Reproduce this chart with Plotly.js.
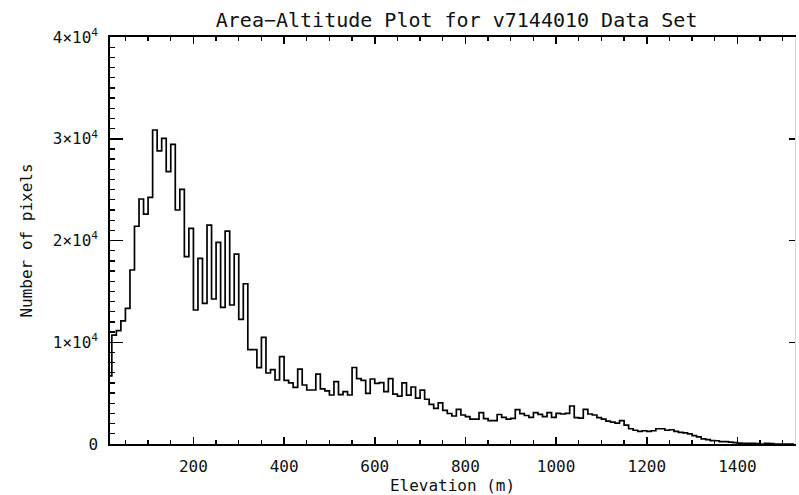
<!DOCTYPE html>
<html>
<head>
<meta charset="utf-8">
<script src="https://cdn.plot.ly/plotly-3.0.1.min.js"></script>
<style>html,body{margin:0;padding:0;background:#fff;}#chart{width:799px;height:495px;}</style>
</head>
<body>
<div id="chart"></div>
<script>
// Histogram: bin centres start at 15 m, 10 m wide
const binFirstCentre = 15;
const binWidth = 10;
const pixelCounts = [
  6700,10700,11150,12100,13330,17100,21400,24080,22600,                 // 15-95
  24240,30860,28800,30040,26760,29450,23000,25030,18410,21200,          // 105-195
  13170,18250,13830,21520,14250,19820,13430,20930,13660,18670,          // 205-295
  12250,15750,9270,9270,7500,10480,6980,7300,6290,8580,                 // 305-395
  6250,6000,5570,7350,5800,5307,5307,6870,5420,5220,                    // 405-495
  4816,6126,4860,5144,4816,7520,6420,6250,4980,6388,                    // 505-595
  5962,6028,5144,6420,4900,4700,6000,4800,5600,4500,                    // 605-695
  5300,4400,3900,3500,4050,3300,3000,2750,3400,2850,                    // 705-795
  2700,2450,2450,3080,2500,2300,2300,2900,2620,2450,                    // 805-895
  2520,3380,2980,2800,2620,3080,2916,2686,3080,2621,                    // 905-995
  3014,2950,3014,3735,2600,2550,3407,2950,2850,2600,                    // 1005-1095
  2450,2250,2150,2050,2293,1850,1500,1350,1250,1300,                    // 1105-1195
  1250,1300,1500,1500,1350,1400,1250,1150,1100,1000,                    // 1205-1295
  820,700,500,430,330,320,230,230,180,130,                              // 1305-1395
  80,70,60,60,50,0,60,50,0,0,                                           // 1405-1495
  0,0,0                                                                 // 1505-1525
];
const xTickVals = [200,400,600,800,1000,1200,1400];
const xTickText = ['200','400','600','800','1000','1200','1400'];
const yTickVals = [0,10000,20000,30000,40000];
const yTickText = ['0','1×10<sup>4</sup>','2×10<sup>4</sup>','3×10<sup>4</sup>','4×10<sup>4</sup>'];
const xRange = [16, 1527];
const yRange = [0, 40000];

const fontFam = '"DejaVu Sans Mono", "Liberation Mono", monospace';
const ink = '#111';

const traces = [
  {
    type: 'scatter', mode: 'lines',
    x0: binFirstCentre, dx: binWidth, y: pixelCounts,
    line: {shape: 'hvh', color: '#000', width: 1.7},
    hoverinfo: 'x+y', showlegend: false
  },
  {
    type: 'scatter', mode: 'lines',
    x0: binFirstCentre, dx: binWidth, y: pixelCounts,
    yaxis: 'y2', opacity: 0, hoverinfo: 'skip', showlegend: false,
    line: {width: 0}
  }
];

const layout = {
  width: 799, height: 495,
  paper_bgcolor: '#fff', plot_bgcolor: '#fff',
  margin: {l: 110, r: 4, t: 37, b: 51},
  font: {family: fontFam, color: ink, size: 16},
  title: {
    text: 'Area−Altitude Plot for v7144010 Data Set',
    font: {family: fontFam, size: 20, color: ink},
    x: 0.506, xref: 'paper', xanchor: 'center',
    y: 0.96, yref: 'container', yanchor: 'middle'
  },
  xaxis: {
    range: xRange, autorange: false,
    tickmode: 'array', tickvals: xTickVals, ticktext: xTickText,
    ticks: 'inside', ticklen: 7, tickwidth: 1.5, tickcolor: '#000',
    minor: {dtick: 50, tick0: 0, ticks: 'inside', ticklen: 4, tickwidth: 1.3, tickcolor: '#000', showgrid: false},
    showline: true, linecolor: '#000', linewidth: 1.7, mirror: 'ticks',
    showgrid: false, zeroline: false,
    ticklabelstandoff: 7,
    tickfont: {family: fontFam, size: 16, color: ink},
    title: {text: 'Elevation (m)', font: {family: fontFam, size: 16, color: ink}, standoff: 4}
  },
  yaxis: {
    range: yRange, autorange: false,
    tickmode: 'array', tickvals: yTickVals, ticktext: yTickText,
    ticks: 'inside', ticklen: 13, tickwidth: 1.5, tickcolor: '#000',
    minor: {dtick: 1000, tick0: 0, ticks: 'inside', ticklen: 5, tickwidth: 1.3, tickcolor: '#000', showgrid: false},
    showline: true, linecolor: '#000', linewidth: 1.7, mirror: false,
    showgrid: false, zeroline: false,
    ticklabelstandoff: 7,
    tickfont: {family: fontFam, size: 16, color: ink},
    title: {text: 'Number of pixels', font: {family: fontFam, size: 16, color: ink}, standoff: 16}
  },
  yaxis2: {
    overlaying: 'y', side: 'right', range: yRange, autorange: false,
    tickmode: 'array', tickvals: yTickVals,
    ticks: 'inside', ticklen: 6, tickwidth: 1.5, tickcolor: '#000',
    showticklabels: false, showline: true, linecolor: '#d8d8d8', linewidth: 1,
    showgrid: false, zeroline: false
  }
};

Plotly.newPlot('chart', traces, layout, {displayModeBar: false, staticPlot: true});
</script>
</body>
</html>
